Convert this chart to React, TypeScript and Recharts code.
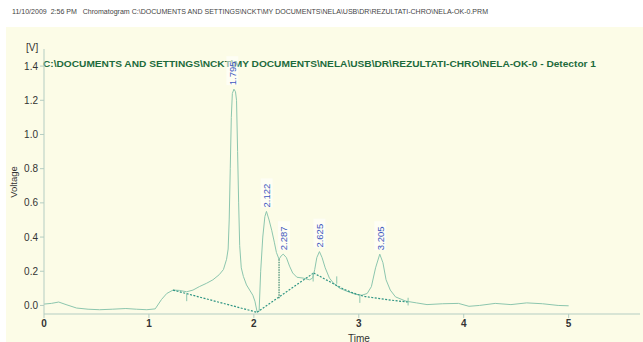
import React from 'react';
import { ComposedChart, Line, Scatter, XAxis, YAxis } from 'recharts';

// chromatogram trace: [time (min), voltage (V)]
const trace: [number, number][] = [
  [0.0, 0.008], [0.07, 0.012], [0.14, 0.02], [0.21, 0.005], [0.31, -0.015],
  [0.42, -0.022], [0.53, -0.025], [0.65, -0.022], [0.78, -0.018], [0.88, -0.022],
  [0.98, -0.025], [1.06, -0.02], [1.12, 0.035], [1.17, 0.07], [1.23, 0.09],
  [1.29, 0.088], [1.36, 0.08], [1.42, 0.09], [1.48, 0.11], [1.55, 0.13],
  [1.61, 0.15], [1.67, 0.18], [1.71, 0.21], [1.74, 0.27], [1.755, 0.33],
  [1.765, 0.5], [1.775, 0.8], [1.785, 1.1], [1.795, 1.24], [1.81, 1.265],
  [1.825, 1.25], [1.835, 1.2], [1.845, 0.9], [1.855, 0.6], [1.865, 0.35],
  [1.88, 0.22], [1.9, 0.17], [1.93, 0.12], [1.96, 0.09], [1.99, 0.06],
  [2.01, 0.025], [2.03, -0.035], [2.05, -0.035], [2.065, 0.2], [2.085, 0.4],
  [2.105, 0.52], [2.12, 0.55], [2.145, 0.5], [2.17, 0.44], [2.195, 0.37],
  [2.215, 0.31], [2.24, 0.27], [2.26, 0.29], [2.28, 0.3], [2.31, 0.28],
  [2.34, 0.23], [2.37, 0.19], [2.41, 0.165], [2.47, 0.16], [2.53, 0.15],
  [2.56, 0.16], [2.58, 0.21], [2.6, 0.28], [2.625, 0.315], [2.65, 0.28],
  [2.68, 0.22], [2.72, 0.16], [2.76, 0.13], [2.82, 0.1], [2.9, 0.08],
  [2.97, 0.065], [3.03, 0.06], [3.08, 0.07], [3.12, 0.11], [3.16, 0.22],
  [3.2, 0.3], [3.23, 0.25], [3.26, 0.15], [3.3, 0.09], [3.35, 0.05],
  [3.45, 0.025], [3.55, 0.015], [3.65, 0.005], [3.8, 0.01], [3.95, 0.012],
  [4.05, -0.005], [4.15, 0.0], [4.3, 0.012], [4.45, 0.005], [4.6, 0.015],
  [4.75, 0.01], [4.9, 0.0], [5.0, -0.002],
];

// integration baselines
const baseline1: [number, number][] = [[1.23, 0.09], [2.03, -0.04]];
const baseline2: [number, number][] = [[2.03, -0.04], [2.57, 0.19]];
const baseline3: [number, number][] = [
  [2.57, 0.19], [2.72, 0.14], [2.86, 0.095], [3.01, 0.06], [3.2, 0.04], [3.47, 0.02],
];
// perpendicular drop between 2.122 and 2.287
const dropLine: [number, number][] = [[2.24, 0.27], [2.24, 0.04]];

// peak start/end markers: [time, top, bottom]
const markers: [number, number, number][] = [
  [1.36, 0.07, 0.025], [2.565, 0.19, 0.14], [2.79, 0.17, 0.127],
  [3.01, 0.063, 0.015], [3.47, 0.045, 0.0],
];

// peak labels and apex heights
const peakLabels = ['1.795', '2.122', '2.287', '2.625', '3.205'];
const peakHeights = [1.265, 0.55, 0.3, 0.315, 0.3];

const xTicks = [0, 1, 2, 3, 4, 5];
const yTicks = [0, 0.2, 0.4, 0.6, 0.8, 1.0, 1.2, 1.4];

const headerText =
  '11/10/2009  2:56 PM   Chromatogram C:\\DOCUMENTS AND SETTINGS\\NCKT\\MY DOCUMENTS\\NELA\\USB\\DR\\REZULTATI-CHRO\\NELA-OK-0.PRM';
const titleText =
  'C:\\DOCUMENTS AND SETTINGS\\NCKT\\MY DOCUMENTS\\NELA\\USB\\DR\\REZULTATI-CHRO\\NELA-OK-0 - Detector 1';

const toPts = (arr: [number, number][]) => arr.map(([t, v]) => ({ t, v }));
const peakData = peakLabels.map((name, i) => ({ t: parseFloat(name), v: peakHeights[i], name }));

const FONT = 'Arial, "Liberation Sans", sans-serif';
const TRACE = '#8cc6ae';
const BASE = '#2f9584';
const AXIS = '#b4cdc2';

const PeakLabel = (props: any) => {
  const { cx, cy, payload } = props;
  if (cx == null || cy == null) return null;
  const x = cx;
  const y = cy - 4;
  const w = payload.name.length * 5.2 + 3;
  return (
    <g>
      <rect x={x - 6} y={y - w} width={12} height={w} fill="#ffffff" fillOpacity={0.55} />
      <text
        x={x}
        y={y}
        transform={`rotate(-90, ${x}, ${y})`}
        textAnchor="start"
        dominantBaseline="central"
        fontSize={9.5}
        fontFamily={FONT}
        fill="#4058c0"
      >
        {payload.name}
      </text>
    </g>
  );
};

export default function App() {
  return (
    <div style={{ position: 'absolute', left: 0, top: 0, width: 643, height: 342, background: '#ffffff', overflow: 'hidden' }}>
      <div style={{ position: 'absolute', left: 6, top: 27, width: 637, height: 315, background: '#fcfce7' }} />
      <div style={{ position: 'absolute', left: 0, top: 0 }}>
        <ComposedChart width={643} height={342} margin={{ top: 49, right: 3, bottom: 0, left: 4 }}>
          <XAxis
            type="number"
            dataKey="t"
            domain={[0, 5.68]}
            ticks={xTicks}
            allowDataOverflow
            height={28}
            stroke={AXIS}
            tickSize={4}
            tickLine={{ stroke: AXIS }}
            tick={{ fontSize: 10, fill: '#333', fontFamily: FONT, fontWeight: 600 }}
          />
          <YAxis
            type="number"
            dataKey="v"
            domain={[-0.05, 1.5]}
            ticks={yTicks}
            allowDataOverflow
            width={40}
            stroke={AXIS}
            tickSize={4}
            tickLine={{ stroke: AXIS }}
            tickFormatter={(v: number) => v.toFixed(1)}
            tick={{ fontSize: 10, fill: '#333', fontFamily: FONT }}
          />
          <Line data={toPts(trace)} dataKey="v" stroke={TRACE} strokeWidth={1} dot={false} activeDot={false} isAnimationActive={false} type="linear" />
          <Line data={toPts(baseline1)} dataKey="v" stroke={BASE} strokeWidth={1.2} strokeDasharray="2 1.5" dot={false} activeDot={false} isAnimationActive={false} type="linear" />
          <Line data={toPts(baseline2)} dataKey="v" stroke={BASE} strokeWidth={1.2} strokeDasharray="2 1.5" dot={false} activeDot={false} isAnimationActive={false} type="linear" />
          <Line data={toPts(baseline3)} dataKey="v" stroke={BASE} strokeWidth={1.2} strokeDasharray="2 1.5" dot={false} activeDot={false} isAnimationActive={false} type="monotone" />
          <Line data={toPts(dropLine)} dataKey="v" stroke="#3d8a6e" strokeWidth={1.2} strokeDasharray="1.5 1" dot={false} activeDot={false} isAnimationActive={false} type="linear" />
          {markers.map(([t, a, b], i) => (
            <Line key={`m${i}`} data={[{ t, v: a }, { t, v: b }]} dataKey="v" stroke={TRACE} strokeWidth={1} dot={false} activeDot={false} isAnimationActive={false} type="linear" />
          ))}
          <Scatter data={peakData} dataKey="v" shape={PeakLabel} isAnimationActive={false} />
          <text x={12} y={14} fontSize={7.6} fontFamily={FONT} fill="#444" textLength={476} lengthAdjust="spacingAndGlyphs" style={{ whiteSpace: 'pre' }}>
            {headerText}
          </text>
          <text x={43} y={66.5} fontSize={9.5} fontWeight="bold" fontFamily={FONT} fill="#1d6b3c" textLength={553} lengthAdjust="spacingAndGlyphs">
            {titleText}
          </text>
          <text x={26} y={50.5} fontSize={10} fontFamily={FONT} fill="#333">[V]</text>
          <text x={16.5} y={182} fontSize={9.5} fontFamily={FONT} fill="#333" textAnchor="middle" transform="rotate(-90, 16.5, 182)">Voltage</text>
          <text x={359} y={341.5} fontSize={10} fontFamily={FONT} fill="#333" textAnchor="middle">Time</text>
        </ComposedChart>
      </div>
    </div>
  );
}
